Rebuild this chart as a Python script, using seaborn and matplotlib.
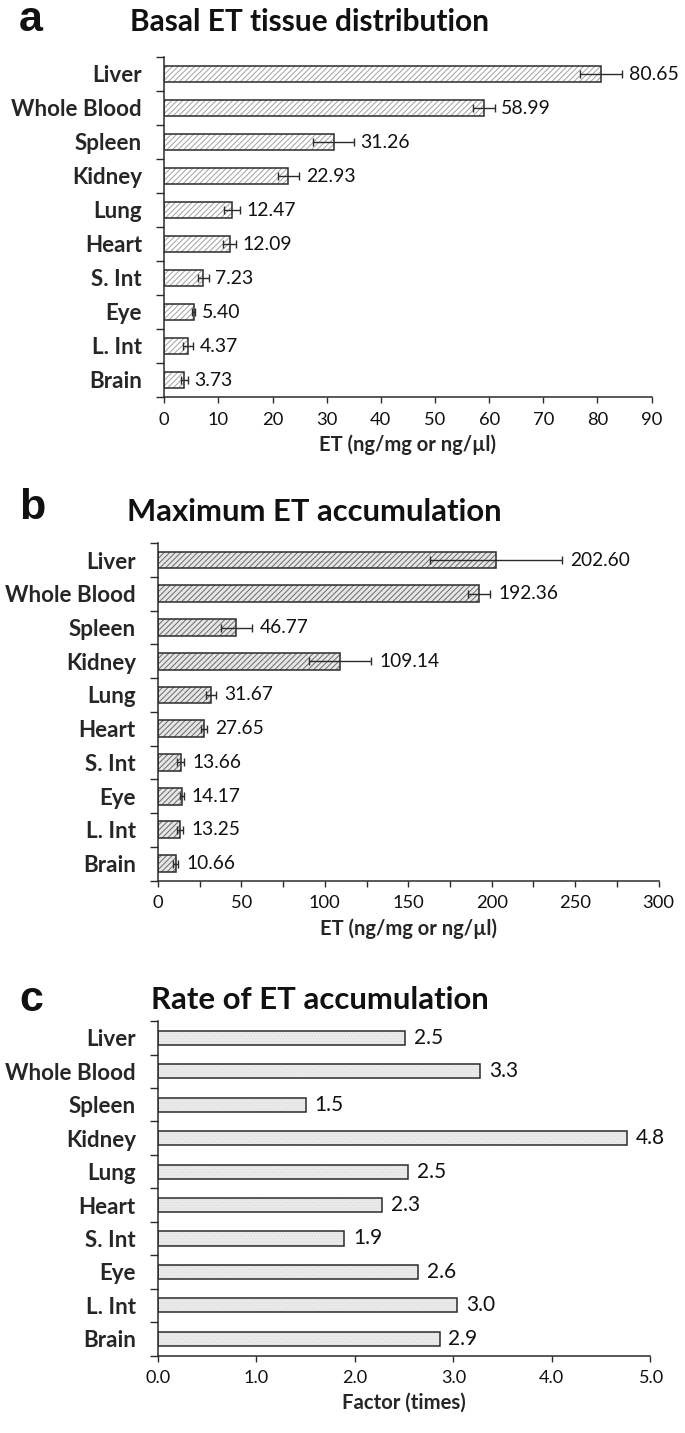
import matplotlib
matplotlib.use("Agg")
import matplotlib.pyplot as plt
import seaborn as sns
import pandas as pd
import numpy as np
from matplotlib.ticker import MultipleLocator, FixedLocator, FuncFormatter
from matplotlib.textpath import TextPath
from matplotlib.font_manager import FontProperties

# ---------------- data ----------------
tissues = ["Liver", "Whole Blood", "Spleen", "Kidney", "Lung", "Heart",
           "S. Int", "Eye", "L. Int", "Brain"]

basal_vals = [80.65, 58.99, 31.26, 22.93, 12.47, 12.09, 7.23, 5.40, 4.37, 3.73]
basal_err = [3.9, 2.0, 3.8, 2.0, 1.5, 1.2, 1.0, 0.3, 1.0, 0.6]
basal_labels = ["80.65", "58.99", "31.26", "22.93", "12.47", "12.09", "7.23",
                "5.40", "4.37", "3.73"]

max_vals = [202.60, 192.36, 46.77, 109.14, 31.67, 27.65, 13.66, 14.17, 13.25, 10.66]
max_err = [39.5, 6.6, 9.3, 18.5, 3.0, 2.0, 2.0, 1.2, 2.0, 1.5]
max_labels = ["202.60", "192.36", "46.77", "109.14", "31.67", "27.65", "13.66",
              "14.17", "13.25", "10.66"]

rate_vals = [2.51, 3.27, 1.50, 4.76, 2.54, 2.28, 1.89, 2.64, 3.04, 2.86]
rate_labels = ["2.5", "3.3", "1.5", "4.8", "2.5", "2.3", "1.9", "2.6", "3.0", "2.9"]

titles = ["Basal ET tissue distribution", "Maximum ET accumulation",
          "Rate of ET accumulation"]
panel_letters = ["a", "b", "c"]
xlabels = ["ET (ng/mg or ng/\u00b5l)", "ET (ng/mg or ng/\u00b5l)", "Factor (times)"]

# ---------------- style ----------------
sns.set_theme(style="ticks")
FAMILY = ["Lato", "DejaVu Sans"]
plt.rcParams["font.family"] = FAMILY
plt.rcParams["hatch.linewidth"] = 0.7

W, H = 685, 1433
DPI = 100
fig = plt.figure(figsize=(W / DPI, H / DPI), dpi=DPI)


def fit_size(text, target_px, weight="normal"):
    """font size (pt) so that the ink width of text is target_px pixels"""
    prop = FontProperties(family=FAMILY, weight=weight)
    w = TextPath((0, 0), text, size=10, prop=prop).get_extents().width
    return 10 * (target_px * 72 / DPI) / w


TITLE_FS = [fit_size(titles[0], 355, "bold"), fit_size(titles[1], 370, "bold"),
            fit_size(titles[2], 334, "bold")]
YLAB_FS = fit_size("Whole Blood", 129, "bold")


def frac_axes(left_px, right_px, top_px, bottom_px):
    return fig.add_axes([left_px / W, 1 - bottom_px / H,
                         (right_px - left_px) / W, (bottom_px - top_px) / H])


ax_a = frac_axes(164.3, 651.6, 57, 397)
ax_b = frac_axes(158.0, 658.6, 543.2, 880.5)
ax_c = frac_axes(158.0, 650.3, 1021.2, 1355.5)

EDGE = "#2b2b2b"


def draw_panel(ax, vals, errs, labels, fillc, hatchc, hatch, width, xmax,
               major, minor, fmt, xlabel, label_pad, tick_fs, val_fs, xlab_fs):
    df = pd.DataFrame({"tissue": tissues, "value": vals})
    # hatched fill
    sns.barplot(data=df, x="value", y="tissue", orient="h", ax=ax,
                color=fillc, width=width, edgecolor=hatchc, linewidth=0,
                hatch=hatch, saturation=1, errorbar=None)
    # outline
    sns.barplot(data=df, x="value", y="tissue", orient="h", ax=ax,
                color=EDGE, width=width, fill=False, linewidth=1.1,
                saturation=1, errorbar=None)
    for p in ax.patches[:len(tissues)]:
        p.set_hatch(hatch)
        p.set_facecolor(fillc)
        p.set_edgecolor(hatchc)
        p.set_linewidth(0)
    ypos = np.arange(len(tissues))
    if errs is not None:
        ax.errorbar(x=vals, y=ypos, xerr=errs, fmt="none", ecolor=EDGE,
                    elinewidth=1.0, capsize=3.2, capthick=1.0)
        ends = [v + e for v, e in zip(vals, errs)]
    else:
        ends = vals
    for y, xe, lab in zip(ypos, ends, labels):
        ax.text(xe + label_pad, y, lab, va="center", ha="left",
                fontsize=val_fs, color="#111111")
    ax.set_xlim(0, xmax)
    ax.set_ylim(len(tissues) - 0.5, -0.5)
    ax.xaxis.set_major_locator(MultipleLocator(major))
    if minor:
        ax.xaxis.set_minor_locator(MultipleLocator(minor))
        ax.tick_params(axis="x", which="minor", length=4.5, width=1, color=EDGE,
                       direction="out")
    ax.xaxis.set_major_formatter(FuncFormatter(lambda v, p: fmt.format(v)))
    ax.set_yticks(ypos)
    ax.set_yticklabels(tissues, fontsize=YLAB_FS, fontweight="bold")
    ax.yaxis.set_minor_locator(FixedLocator(np.arange(-0.5, len(tissues), 1.0)))
    ax.tick_params(axis="y", which="major", length=0, pad=16)
    ax.tick_params(axis="y", which="minor", length=6, width=1, color=EDGE,
                   direction="out")
    ax.tick_params(axis="x", which="major", length=4.5, width=1, color=EDGE,
                   direction="out", labelsize=tick_fs, pad=6)
    for lab in ax.get_xticklabels():
        lab.set_color("#111111")
    ax.set_ylabel("")
    ax.set_xlabel(xlabel, fontsize=xlab_fs, fontweight="bold", labelpad=5)
    for s in ["top", "right"]:
        ax.spines[s].set_visible(False)
    for s in ["left", "bottom"]:
        ax.spines[s].set_color(EDGE)
        ax.spines[s].set_linewidth(1.1)


draw_panel(ax_a, basal_vals, basal_err, basal_labels, "#ffffff", "#a0a0a0",
           "//////", 0.49, 90, 10, None, "{:.0f}", xlabels[0], 1.2,
           fit_size("300", 30.6), fit_size("31.26", 48), fit_size(xlabels[0], 175, "bold"))
draw_panel(ax_b, max_vals, max_err, max_labels, "#e6e6e6", "#6a6a6a",
           "//////", 0.5, 300, 50, 25, "{:.0f}", xlabels[1], 4.8,
           fit_size("300", 30.6), fit_size("109.14", 58), fit_size(xlabels[1], 175, "bold"))
draw_panel(ax_c, rate_vals, None, rate_labels, "#ececec", "#dcdcdc",
           "......", 0.42, 5, 1, None, "{:.1f}", xlabels[2], 0.09,
           fit_size("0.0", 24.3), fit_size("1.5", 26), fit_size(xlabels[2], 121, "bold"))

# titles and panel letters
title_pos = [(310, 22), (314, 512), (320, 1000)]
letter_pos = [(31, 20), (32, 508), (31, 1000)]
for (tx, ty), (lx, ly), t, l, fs in zip(title_pos, letter_pos, titles,
                                         panel_letters, TITLE_FS):
    fig.text(tx / W, 1 - ty / H, t, ha="center", va="center", fontsize=fs,
             fontweight="bold", color="#111111")
    fig.text(lx / W, 1 - ly / H, l, ha="center", va="center", fontsize=31,
             fontweight="bold", family=["Liberation Sans", "DejaVu Sans"],
             color="#111111")

fig.savefig("out.png", dpi=DPI, facecolor="white")
